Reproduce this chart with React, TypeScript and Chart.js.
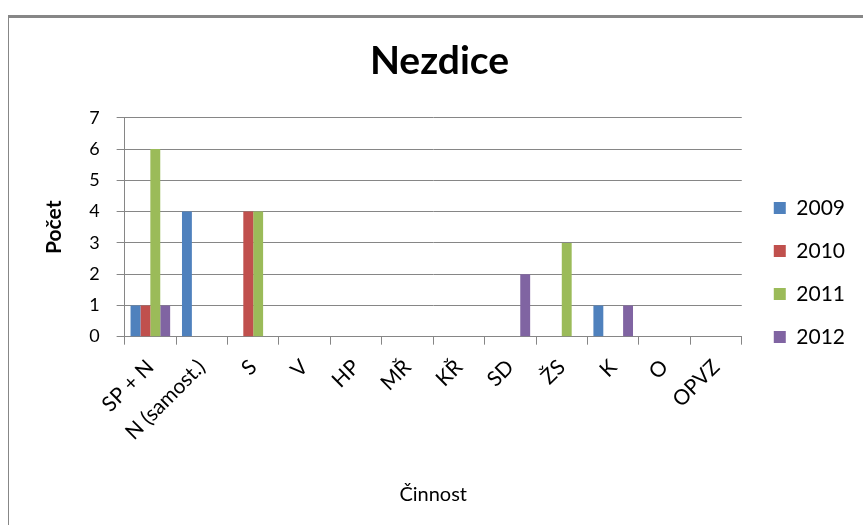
import React, { useEffect, useRef } from "react";
import { Chart, registerables } from "chart.js";

Chart.register(...registerables);

const categories = ["SP + N", "N (samost.)", "S", "V", "HP", "MŘ", "KŘ", "SD", "ŽS", "K", "O", "OPVZ"];
const seriesLabels = ["2009", "2010", "2011", "2012"];
const values2009 = [1, 4, 0, 0, 0, 0, 0, 0, 0, 1, 0, 0];
const values2010 = [1, 0, 4, 0, 0, 0, 0, 0, 0, 0, 0, 0];
const values2011 = [6, 0, 4, 0, 0, 0, 0, 0, 3, 0, 0, 0];
const values2012 = [1, 0, 0, 0, 0, 0, 0, 2, 0, 1, 0, 0];
const seriesColors = ["#4F81BD", "#C0504D", "#9BBB59", "#8064A2"];
const yTicks = [0, 1, 2, 3, 4, 5, 6, 7];

const FONT = "Lato, 'Open Sans', sans-serif";
const GRID = "#868686";

export default function App() {
  const ref = useRef<HTMLCanvasElement | null>(null);

  useEffect(() => {
    document.body.style.margin = "0";
    const ctx = ref.current!;
    const all = [values2009, values2010, values2011, values2012];
    const chart = new Chart(ctx, {
      type: "bar",
      data: {
        labels: categories,
        datasets: all.map((v, i) => ({
          label: seriesLabels[i],
          data: v,
          backgroundColor: seriesColors[i],
          borderWidth: 0,
          categoryPercentage: 0.77,
          barPercentage: 1,
        })),
      },
      options: {
        animation: false,
        responsive: false,
        maintainAspectRatio: false,
        layout: { padding: { left: 24, right: 8, top: 0, bottom: 18 } },
        plugins: {
          title: {
            display: true,
            text: "Nezdice",
            color: "#000",
            font: { family: FONT, size: 39, weight: "bold" },
            padding: { top: 38, bottom: 33 },
          },
          legend: {
            position: "right",
            align: "center",
            title: { display: true, text: " ", padding: { top: 0, bottom: 26 }, font: { size: 10 } },
            labels: {
              boxWidth: 12,
              boxHeight: 12,
              padding: 22,
              color: "#000",
              font: { family: FONT, size: 21 },
            },
          },
          tooltip: { enabled: false },
        },
        scales: {
          x: {
            grid: {
              display: true,
              drawOnChartArea: false,
              drawTicks: true,
              tickLength: 8,
              color: GRID,
              offset: true,
            },
            border: { display: true, color: GRID },
            ticks: {
              autoSkip: false,
              maxRotation: 45,
              minRotation: 45,
              color: "#000",
              font: { family: FONT, size: 21 },
              padding: 10,
            },
            title: {
              display: true,
              text: "Činnost",
              color: "#000",
              font: { family: FONT, size: 20 },
              padding: { top: 28, bottom: 0 },
            },
          },
          y: {
            min: 0,
            max: 7,
            afterBuildTicks: (axis: any) => {
              axis.ticks = yTicks.map((v) => ({ value: v }));
            },
            grid: { color: GRID, tickLength: 8 },
            border: { display: true, color: GRID },
            ticks: {
              color: "#000",
              font: { family: FONT, size: 18 },
              padding: 17,
            },
            title: {
              display: true,
              text: "Počet",
              color: "#000",
              font: { family: FONT, size: 21, weight: "bold" },
              padding: { top: 18, bottom: 5 },
            },
          },
          gap: {
            type: "linear",
            position: "right",
            display: true,
            grid: { display: false, drawTicks: false },
            border: { display: false },
            ticks: { display: false },
            afterFit: (axis: any) => {
              axis.width = 10;
            },
          },
        },
      },
    });
    return () => chart.destroy();
  }, []);

  return (
    <div style={{ position: "relative", width: 863, height: 525, background: "#fff" }}>
      <canvas ref={ref} width={863} height={525} style={{ display: "block" }} />
      <div
        style={{
          position: "absolute",
          left: 8,
          top: 15,
          width: 855,
          height: 510,
          borderTop: "3px solid #878787",
          borderLeft: "1px solid #878787",
          pointerEvents: "none",
          boxSizing: "border-box",
        }}
      />
    </div>
  );
}
